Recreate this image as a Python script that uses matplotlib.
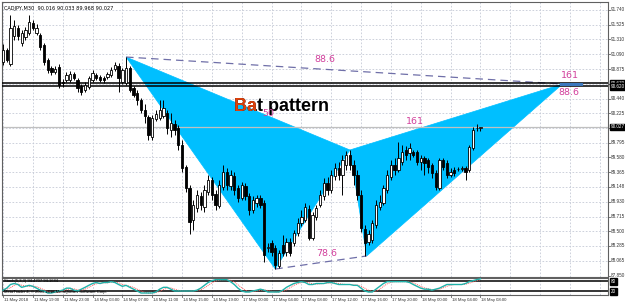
import matplotlib
matplotlib.use("Agg")
import matplotlib.pyplot as plt
from matplotlib.patches import Polygon, Rectangle
import numpy as np

# ---------------- data ----------------
opens = [90.978, 91.154, 90.949, 91.359, 91.476, 91.256, 91.344, 91.403, 91.549, 91.403,
         91.374, 91.227, 91.008, 90.890, 90.832, 90.905, 90.685, 90.715, 90.715, 90.803,
         90.715, 90.627, 90.568, 90.612, 90.715, 90.788, 90.759, 90.744, 90.759, 90.788,
         90.876, 90.920, 90.685, 90.671, 90.890, 90.598, 90.524, 90.422, 90.276, 90.173,
         89.880, 90.144, 90.158, 90.188, 90.232, 89.983, 90.071, 90.012, 89.763, 89.441,
         89.133, 88.665, 88.841, 89.016, 88.855, 89.075, 89.251, 89.045, 88.870, 89.148,
         89.368, 89.163, 89.309, 89.133, 88.987, 89.163, 89.016, 88.811, 88.914, 88.987,
         88.914, 88.255, 88.328, 88.255, 87.991, 88.299, 88.196, 88.343, 88.328, 88.475,
         88.621, 88.665, 88.826, 88.401, 88.709, 88.885, 89.016, 89.207, 89.104, 89.309,
         89.426, 89.324, 89.470, 89.617, 89.470, 89.324, 89.031, 88.533, 88.343, 88.372,
         88.592, 88.855, 88.914, 89.104, 89.295, 89.470, 89.397, 89.514, 89.690, 89.646,
         89.661, 89.661, 89.514, 89.573, 89.543, 89.470, 89.353, 89.133, 89.543, 89.499,
         89.324, 89.397, 89.412, 89.412, 89.426, 89.397, 89.719, 90.012, 90.016]
highs = [91.242, 91.183, 91.666, 91.593, 91.520, 91.447, 91.491, 91.666, 91.593, 91.535,
         91.403, 91.256, 91.037, 90.920, 90.920, 90.949, 90.729, 90.832, 90.847, 90.832,
         90.744, 90.656, 90.685, 90.773, 90.861, 90.817, 90.788, 90.773, 90.832, 90.905,
         90.978, 90.963, 90.890, 91.051, 90.920, 90.627, 90.568, 90.451, 90.363, 90.202,
         90.202, 90.276, 90.422, 90.422, 90.276, 90.232, 90.129, 90.056, 89.836, 89.470,
         89.177, 88.958, 89.104, 89.075, 89.177, 89.324, 89.295, 89.104, 89.251, 89.470,
         89.426, 89.397, 89.368, 89.177, 89.221, 89.207, 89.060, 89.016, 89.031, 89.031,
         88.958, 88.328, 88.372, 88.299, 88.226, 88.445, 88.401, 88.401, 88.519, 88.694,
         88.811, 88.914, 88.885, 88.782, 88.885, 89.104, 89.280, 89.295, 89.397, 89.499,
         89.514, 89.617, 89.675, 89.690, 89.543, 89.397, 89.104, 88.592, 88.519, 88.665,
         88.958, 89.031, 89.177, 89.397, 89.543, 89.573, 89.807, 89.763, 89.748, 89.792,
         89.690, 89.690, 89.617, 89.602, 89.573, 89.499, 89.397, 89.573, 89.573, 89.543,
         89.426, 89.441, 89.441, 89.456, 89.456, 89.763, 90.027, 90.071, 90.033]
lows = [90.934, 90.978, 90.920, 91.300, 91.300, 91.213, 91.300, 91.374, 91.447, 91.374,
        91.154, 90.934, 90.817, 90.788, 90.803, 90.598, 90.612, 90.685, 90.685, 90.715,
        90.539, 90.495, 90.539, 90.583, 90.685, 90.715, 90.685, 90.671, 90.729, 90.759,
        90.847, 90.539, 90.656, 90.642, 90.539, 90.466, 90.349, 90.232, 90.085, 89.836,
        89.836, 90.114, 90.129, 90.158, 89.924, 89.880, 89.910, 89.690, 89.368, 89.075,
        88.460, 88.519, 88.782, 88.811, 88.782, 89.031, 88.958, 88.811, 88.841, 89.104,
        89.104, 89.104, 89.031, 88.929, 88.958, 88.958, 88.738, 88.767, 88.855, 88.841,
        88.050, 88.196, 88.138, 87.947, 87.962, 88.138, 88.138, 88.138, 88.284, 88.431,
        88.577, 88.636, 88.372, 88.372, 88.665, 88.855, 88.958, 89.031, 89.060, 89.251,
        89.251, 89.031, 89.397, 89.397, 89.177, 88.958, 88.489, 88.138, 88.299, 88.328,
        88.548, 88.811, 88.885, 89.060, 89.251, 89.324, 89.368, 89.470, 89.543, 89.543,
        89.587, 89.470, 89.397, 89.324, 89.353, 89.280, 89.104, 89.104, 89.397, 89.280,
        89.295, 89.309, 89.382, 89.382, 89.251, 89.368, 89.690, 89.968, 89.968]
closes = [91.154, 91.008, 91.476, 91.505, 91.359, 91.403, 91.447, 91.564, 91.476, 91.476,
          91.198, 90.978, 90.861, 90.832, 90.876, 90.642, 90.671, 90.788, 90.803, 90.744,
          90.598, 90.539, 90.642, 90.744, 90.817, 90.744, 90.715, 90.715, 90.803, 90.861,
          90.934, 90.744, 90.861, 90.890, 90.568, 90.495, 90.422, 90.276, 90.188, 89.910,
          90.158, 90.217, 90.276, 90.305, 90.012, 90.085, 89.983, 89.763, 89.426, 89.133,
          88.636, 88.885, 89.031, 88.885, 89.104, 89.251, 89.031, 88.885, 89.177, 89.368,
          89.177, 89.324, 89.104, 88.987, 89.177, 89.016, 88.811, 88.958, 88.987, 88.885,
          88.152, 88.270, 88.196, 88.006, 88.182, 88.182, 88.343, 88.182, 88.475, 88.621,
          88.709, 88.855, 88.401, 88.738, 88.841, 89.031, 89.207, 89.104, 89.324, 89.426,
          89.324, 89.543, 89.617, 89.470, 89.324, 89.031, 88.548, 88.328, 88.460, 88.621,
          88.885, 88.929, 89.133, 89.324, 89.470, 89.397, 89.573, 89.661, 89.617, 89.719,
          89.617, 89.514, 89.573, 89.499, 89.441, 89.353, 89.148, 89.543, 89.441, 89.324,
          89.368, 89.353, 89.415, 89.426, 89.368, 89.734, 89.983, 90.016, 90.027]

stoch_main = [27, 39, 61, 67, 61, 44, 50, 56, 50, 39, 27, 22, 10, 10, 16, 22, 27, 39, 39, 27,
              22, 33, 44, 56, 67, 73, 67, 73, 73, 78, 73, 61, 50, 56, 44, 33, 22, 10, 10, 10,
              10, 16, 33, 44, 44, 33, 22, 22, 22, 22, 22, 22, 27, 39, 56, 73, 84, 90, 90, 90,
              90, 78, 61, 39, 22, 16, 16, 22, 27, 33, 27, 16, 16, 16, 16, 27, 44, 56, 67, 73,
              78, 73, 61, 61, 67, 67, 67, 73, 73, 67, 61, 61, 61, 61, 56, 56, 39, 22, 16, 16,
              33, 50, 67, 78, 78, 78, 78, 78, 78, 73, 61, 50, 39, 33, 33, 27, 33, 39, 50, 61,
              61, 61, 61, 61, 67, 78, 84, 90, 95]
stoch_signal = [30, 33, 42, 56, 63, 57, 52, 50, 52, 48, 39, 29, 20, 14, 12, 16, 22, 29, 35, 35,
                29, 27, 33, 44, 56, 65, 69, 71, 71, 75, 75, 71, 61, 56, 50, 44, 33, 22, 14, 10,
                10, 12, 20, 31, 40, 40, 33, 26, 22, 22, 22, 22, 24, 29, 41, 56, 71, 82, 88, 90,
                90, 86, 76, 59, 41, 26, 18, 18, 22, 27, 29, 25, 20, 16, 16, 20, 29, 42, 56, 65,
                73, 75, 71, 65, 63, 65, 67, 69, 71, 71, 67, 63, 61, 61, 59, 58, 50, 39, 26, 18,
                22, 33, 50, 65, 74, 78, 78, 78, 78, 76, 71, 61, 50, 41, 35, 31, 31, 33, 41, 50,
                57, 61, 61, 61, 63, 69, 76, 84, 90]

time_labels = ["11 May 2018", "11 May 19:00", "11 May 23:00", "14 May 03:00", "14 May 07:00",
               "14 May 11:00", "14 May 15:00", "14 May 19:00", "17 May 00:00", "17 May 04:00",
               "17 May 08:00", "17 May 12:00", "17 May 16:00", "17 May 20:00", "18 May 00:00",
               "18 May 04:00", "18 May 08:00"]
price_ticks = [91.740, 91.525, 91.310, 91.090, 90.875, 90.660, 90.440, 90.225, 90.010,
               89.795, 89.580, 89.365, 89.148, 88.930, 88.715, 88.500, 88.285, 88.065]

# Bat pattern points (bar index, price): X, A, B, C, D
pat_x = [33, 73, 93, 97.5, 150]
pat_y = [91.051, 87.947, 89.690, 88.138, 90.656]
h_levels = [90.670, 90.620]
bid = 90.027

fib_labels = ["88.6", "161", "88.6", "50", "161", "78.6"]
fib_x = [86.3, 152.0, 151.7, 71.0, 110.5, 86.9]
fib_y = [91.008, 90.788, 90.539, 90.225, 90.114, 88.167]

# ---------------- figure ----------------
W, H = 625, 304
fig = plt.figure(figsize=(W / 100, H / 100), dpi=100)
fig.patch.set_facecolor("white")

def fx(px): return px / W
def fy(py): return 1 - py / H

ax = fig.add_axes([fx(2), fy(277), fx(606), 275 / H])
sub = fig.add_axes([fx(2), fy(295), fx(606), 17 / H])

xmin, xmax = -0.27, 162.2
ax.set_xlim(xmin, xmax)
ax.set_ylim(87.83, 91.857)
sub.set_xlim(xmin, xmax)
sub.set_ylim(-2, 100)

grid_col = "#c5cad6"
for a in (ax, sub):
    a.set_xticks([])
    a.set_yticks([])
    for s in a.spines.values():
        s.set_color("#606060")
        s.set_linewidth(0.8)

# grid
for k in range(len(time_labels) + 4):
    xv = 8 * k
    ax.axvline(xv, color=grid_col, lw=0.6, ls=(0, (2, 2)), zorder=0)
    sub.axvline(xv, color=grid_col, lw=0.6, ls=(0, (2, 2)), zorder=0)
for pv in price_ticks:
    ax.axhline(pv, color=grid_col, lw=0.6, ls=(0, (2, 2)), zorder=0)

# pattern triangles
cyan = "#00bfff"
X, A, B, C, D = list(zip(pat_x, pat_y))
ax.add_patch(Polygon([X, A, B], closed=True, facecolor=cyan, edgecolor=cyan, lw=0.5, zorder=1))
ax.add_patch(Polygon([B, C, D], closed=True, facecolor=cyan, edgecolor=cyan, lw=0.5, zorder=1))
dash_col = "#6f6fa8"
ax.plot([X[0], D[0]], [X[1], D[1]], color=dash_col, lw=0.9, ls=(0, (6, 4)), zorder=2)
ax.plot([A[0], C[0]], [A[1], C[1]], color=dash_col, lw=0.9, ls=(0, (6, 4)), zorder=2)

# horizontal lines
for lv in h_levels:
    ax.axhline(lv, color="black", lw=1.1, zorder=3)
ax.axhline(bid, color="#c0c0c0", lw=0.9, zorder=1.5)
ax.add_patch(Rectangle((149.3, h_levels[1]), 6.2, h_levels[0] - h_levels[1],
                       facecolor="#3c78be", edgecolor="none", zorder=3.5))

# candles
idx = np.arange(len(opens))
o = np.array(opens); c = np.array(closes); hi = np.array(highs); lo = np.array(lows)
ax.vlines(idx, lo, hi, color="black", lw=0.7, zorder=4)
up = c >= o
ax.bar(idx[up], c[up] - o[up], bottom=o[up], width=0.62, color="white",
       edgecolor="black", linewidth=0.6, zorder=5)
ax.bar(idx[~up], o[~up] - c[~up], bottom=c[~up], width=0.62, color="black",
       edgecolor="black", linewidth=0.6, zorder=5)

# Bat pattern text (black, with the first letters overdrawn in orange-red)
bat_x, bat_y = 74.6, 90.265
ax.text(bat_x, bat_y, "Bat pattern", fontsize=13, fontweight="bold", color="black",
        family="Liberation Sans", ha="center", va="baseline", zorder=7)
tr = ax.text(bat_x, bat_y, "Bat pattern", fontsize=13, fontweight="bold", color="#e0400a",
             family="Liberation Sans", ha="center", va="baseline", zorder=8)
clip_rect = Rectangle((58.0, 89.8), 9.9, 1.4, transform=ax.transData)
tr.set_clip_on(True)
tr.set_clip_path(clip_rect)

# fib labels (drawn on top)
fib_col = "#d2409c"
for t, xv, yv in zip(fib_labels, fib_x, fib_y):
    ax.text(xv, yv, t, color=fib_col, fontsize=6.8, ha="center", va="center", zorder=9)

# header text
ax.text(0.004, 0.985, "CADJPY,M30  90.016 90.033 89.968 90.027", transform=ax.transAxes,
        fontsize=3.6, ha="left", va="top", color="black", zorder=9)

FS = 3.3
FAM = "Liberation Sans"

def fig_y_of(a, val):
    return a.transData.transform((0, val))[1] / fig.dpi / fig.get_figheight()

# right price axis labels
for pv in price_ticks + [87.850]:
    yv = fig_y_of(ax, pv)
    fig.text(fx(611), yv, f"{pv:.3f}", fontsize=FS, family=FAM,
             ha="left", va="center", color="#303030")
    fig.add_artist(plt.Line2D([fx(608), fx(610)], [yv, yv], color="#606060", lw=0.6))

def box_label(a, val, txt):
    yv = fig_y_of(a, val)
    fig.text(fx(610.5), yv, txt, fontsize=FS, family=FAM, ha="left", va="center",
             color="white",
             bbox=dict(boxstyle="square,pad=0.2", facecolor="black", edgecolor="black"))

box_label(ax, h_levels[0], f"{h_levels[0]:.3f}")
box_label(ax, h_levels[1], f"{h_levels[1]:.3f}")
box_label(ax, bid, f"{bid:.3f}")

# stochastic sub window
sub.plot(idx, stoch_signal, color="#ff5a5a", lw=0.7, ls=(0, (1, 1)), zorder=3)
sub.plot(idx, stoch_main, color="#20b2aa", lw=1.0, zorder=4)
sub.axhline(80, color="black", lw=1.1, zorder=2)
sub.axhline(20, color="black", lw=1.1, zorder=2)
sub.text(0.004, 0.97, "Stoch(5,3,3) 94.4707 94.1684", transform=sub.transAxes, fontsize=3.0,
         family=FAM, ha="left", va="top", color="black", zorder=6)
sub.text(0.004, 0.2, "MetaTrader 4, \u00a9 2001-2018 MetaQuotes Software Corp.",
         transform=sub.transAxes, fontsize=3.0, family=FAM, ha="left", va="center",
         color="black", zorder=6)
box_label(sub, 80, "80")
box_label(sub, 20, "20")

# time labels
for k, t in enumerate(time_labels):
    xpix = ax.transData.transform((8 * k, 0))[0] / fig.dpi / fig.get_figwidth()
    fig.text(xpix + fx(1), fy(299.5), t, fontsize=3.1, family=FAM, ha="left", va="center",
             color="#303030")
    fig.add_artist(plt.Line2D([xpix, xpix], [fy(295), fy(297)], color="#606060", lw=0.6))

fig.savefig("out.png", dpi=100, facecolor="white")
